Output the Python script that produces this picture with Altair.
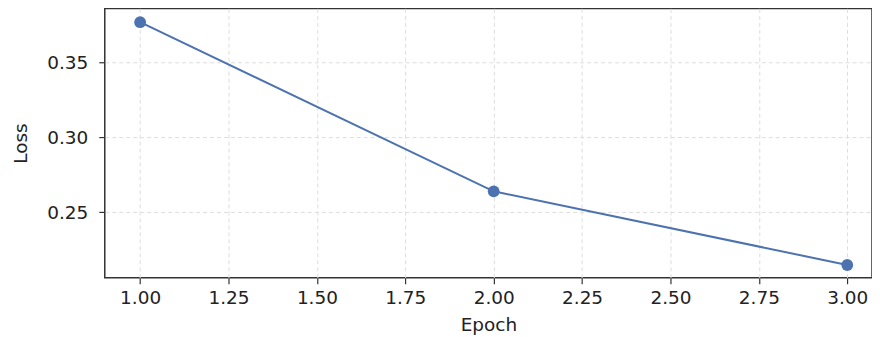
import altair as alt
import pandas as pd

epochs = [1, 2, 3]
losses = [0.3765, 0.264, 0.215]
x_ticks = [1.0, 1.25, 1.5, 1.75, 2.0, 2.25, 2.5, 2.75, 3.0]
y_ticks = [0.25, 0.30, 0.35]

df = pd.DataFrame({"Epoch": epochs, "Loss": losses})

color = "#4c72b0"
font = "DejaVu Sans"

x = alt.X("Epoch:Q", scale=alt.Scale(domain=[0.9, 3.07], nice=False, zero=False),
          axis=alt.Axis(values=x_ticks, format=".2f", title="Epoch", labelFlush=False,
                        labelPadding=5, titlePadding=8))
y = alt.Y("Loss:Q", scale=alt.Scale(domain=[0.2065, 0.3857], nice=False, zero=False),
          axis=alt.Axis(values=y_ticks, format=".2f", title="Loss", labelPadding=11,
                        titlePadding=16))

base = alt.Chart(df)
line = base.mark_line(color=color, strokeWidth=2).encode(x=x, y=y)
pts = base.mark_circle(color=color, size=140, opacity=1).encode(x=x, y=y)

chart = (line + pts).properties(
    width=769, height=270,
    autosize=alt.AutoSizeParams(type="none"),
    padding={"left": 97, "top": 0, "right": 0, "bottom": 58},
).configure_view(stroke="#333333", strokeWidth=1.5).configure_axis(
    grid=True, gridColor="#dddddd", gridDash=[4, 3], gridWidth=1,
    domain=False, tickColor="#333333", tickSize=6, tickWidth=1.2,
    labelFont=font, labelFontSize=18.5, labelColor="#222222",
    titleFont=font, titleFontSize=18.5, titleFontWeight="normal", titleColor="#222222",
)

chart.save("out.html", embed_options={"renderer": "svg", "actions": False})
